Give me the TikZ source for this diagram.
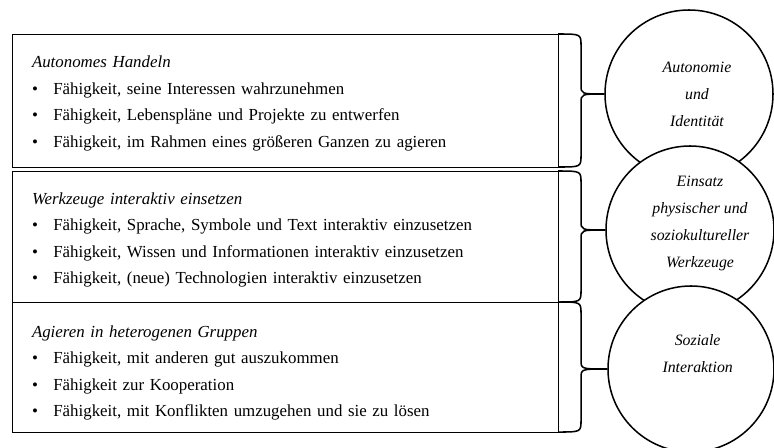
\documentclass[tikz,border=0pt]{standalone}
\usepackage{fontspec}
\setmainfont{Liberation Serif}
\usetikzlibrary{positioning,calc}

\newcommand{\pkt}{\makebox[0.64cm][l]{\textbullet}}

\begin{document}
\begin{tikzpicture}[x=0.03cm,y=-0.03cm,node distance=0.12cm,
  kasten/.style={draw,rectangle,line width=0.8pt,anchor=north west,outer sep=0pt,inner xsep=0.6cm,inner ysep=0pt,text width=15.18cm,align=left,font=\fontsize{14.4}{22.6}\selectfont},
  kreis/.style={draw,circle,fill=white,line width=1.3pt,minimum size=5.04cm,inner sep=0pt},
  kreistext/.style={align=center,font=\fontsize{13.5}{23}\selectfont\itshape},
  klammer/.style={line width=1.3pt}]
  \useasboundingbox (0,0) rectangle (774,448);

  % Kompetenzkategorien
  \node[kasten,minimum height=3.99cm] (b1) at (12,34) {\rule{0pt}{0.53cm}\textit{Autonomes Handeln}\\
    \pkt Fähigkeit, seine Interessen wahrzunehmen\\
    \pkt Fähigkeit, Lebenspläne und Projekte zu entwerfen\\
    \pkt Fähigkeit, im Rahmen eines größeren Ganzen zu agieren};
  \node[kasten,minimum height=3.93cm,below=of b1] (b2) {\rule{0pt}{0.56cm}\textit{Werkzeuge interaktiv einsetzen}\\
    \pkt Fähigkeit, Sprache, Symbole und Text interaktiv einzusetzen\\
    \pkt Fähigkeit, Wissen und Informationen interaktiv einzusetzen\\
    \pkt Fähigkeit, (neue) Technologien interaktiv einzusetzen};
  \node[kasten,minimum height=3.9cm,below=0pt of b2] (b3) {\rule{0pt}{0.71cm}\textit{Agieren in heterogenen Gruppen}\\
    \pkt Fähigkeit, mit anderen gut auszukommen\\
    \pkt Fähigkeit zur Kooperation\\
    \pkt Fähigkeit, mit Konflikten umzugehen und sie zu lösen};

  % Kreise
  \node[kreis] (c1) at (689,94) {};
  \node[kreis] (c2) at (690,230) {};
  \node[kreis,minimum size=4.98cm] (c3) at (691,369) {};
  \node[kreistext] (t1) at ([xshift=0.24cm]c1.center) {Autonomie\\und\\Identität};
  \node[kreistext] (t2) at ([xshift=0.3cm,yshift=0.2cm]c2.center) {Einsatz\\physischer und\\soziokultureller\\Werkzeuge};
  \node[kreistext] (t3) at ([xshift=0.2cm,yshift=0.46cm]c3.center) {Soziale\\Interaktion};

  % Klammern
  \foreach \b/\c in {b1/c1,b2/c2,b3/c3}
    \draw[klammer] let \p1=(\b.north east), \p2=(\c.west), \p3=(\b.south east) in
      (\p1) .. controls (\x1+0.69cm,\y1) .. (\x1+0.69cm,\y1-0.36cm)
      -- (\x1+0.69cm,\y2+0.27cm) .. controls (\x1+0.69cm,\y2) .. (\x2,\y2)
      .. controls (\x1+0.69cm,\y2) .. (\x1+0.69cm,\y2-0.27cm)
      -- (\x1+0.69cm,\y3+0.36cm) .. controls (\x1+0.69cm,\y3) .. (\p3);
\end{tikzpicture}
\end{document}
